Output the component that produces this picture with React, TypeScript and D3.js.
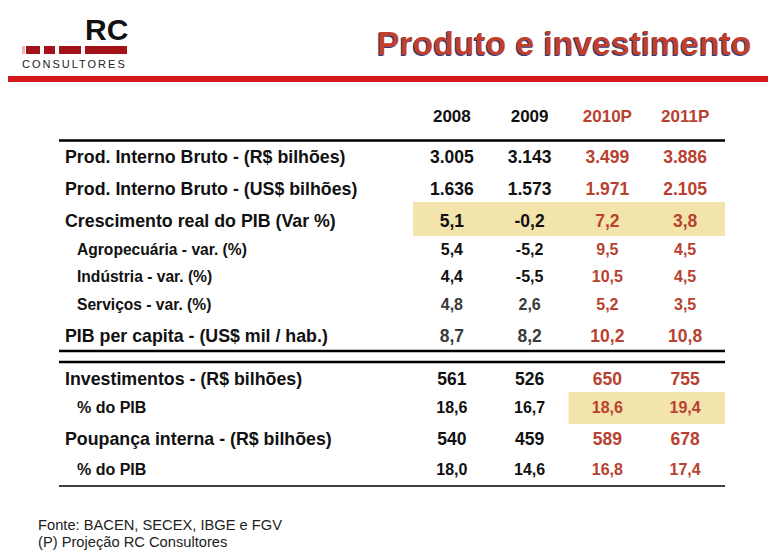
import React from "react";
import * as d3 from "d3";

const years = ["2008", "2009", "2010P", "2011P"];
const projected = [false, false, true, true];

const rowLabels = [
  "Prod. Interno Bruto - (R$ bilhões)",
  "Prod. Interno Bruto - (US$ bilhões)",
  "Crescimento real do PIB (Var %)",
  "Agropecuária - var. (%)",
  "Indústria - var. (%)",
  "Serviços - var. (%)",
  "PIB per capita - (US$ mil / hab.)",
  "Investimentos - (R$ bilhões)",
  "% do PIB",
  "Poupança interna - (R$ bilhões)",
  "% do PIB",
];

const pibReais = [3005, 3143, 3499, 3886];
const pibDolares = [1636, 1573, 1971, 2105];
const crescimento = [5.1, -0.2, 7.2, 3.8];
const agropecuaria = [5.4, -5.2, 9.5, 4.5];
const industria = [4.4, -5.5, 10.5, 4.5];
const servicos = [4.8, 2.6, 5.2, 3.5];
const pibPerCapita = [8.7, 8.2, 10.2, 10.8];
const investimentos = [561, 526, 650, 755];
const investPctPib = [18.6, 16.7, 18.6, 19.4];
const poupanca = [540, 459, 589, 678];
const poupancaPctPib = [18.0, 14.6, 16.8, 17.4];

const rowValues = [
  pibReais,
  pibDolares,
  crescimento,
  agropecuaria,
  industria,
  servicos,
  pibPerCapita,
  investimentos,
  investPctPib,
  poupanca,
  poupancaPctPib,
];
// "int" = thousands format, "dec" = one decimal
const rowFormats = ["int", "int", "dec", "dec", "dec", "dec", "dec", "int", "dec", "int", "dec"];
// kind: main / sub / pct
const rowKinds = ["main", "main", "main", "sub", "sub", "sub", "main", "main", "pct", "main", "pct"];
const grayRows = [5, 6];
// highlighted cells: [row, firstCol, lastCol]
const highlights: [number, number, number][] = [
  [2, 0, 3],
  [8, 2, 3],
];

const sources = ["Fonte: BACEN, SECEX, IBGE e FGV", "(P) Projeção RC Consultores"];

const loc = d3.formatLocale({
  decimal: ",",
  thousands: ".",
  grouping: [3],
  currency: ["R$", ""],
  minus: "-",
});
const fmtInt = loc.format(",.0f");
const fmtDec = loc.format(",.1f");

const FONT = "'Liberation Sans', Arial, Helvetica, sans-serif";
const RED = "#b8412f";
const TITLE_RED = "#c2402b";
const HL = "#f2e4ab";

export default function App() {
  const W = 778;
  const H = 551;
  const left = 59;
  const right = 725;

  const x = d3.scaleBand<string>().domain(years).range([413, 724]).padding(0);
  const cx = (y: string) => (x(y) as number) + x.bandwidth() / 2;

  // row baselines (layout)
  const steps = [0, 32, 32, 28, 27, 28, 32, 43, 28, 32, 30];
  const baselines: number[] = [];
  steps.reduce((acc, s, i) => {
    const v = acc + s;
    baselines[i] = v;
    return v;
  }, 163);

  const valueSize = (k: string) => (k === "main" ? 17.5 : 16);
  const labelSize = (k: string) => (k === "main" ? 17.8 : k === "sub" ? 15.6 : 16);
  const labelX = (k: string) => (k === "main" ? 65 : 77);

  return (
    <svg
      width={W}
      height={H}
      style={{ position: "absolute", left: 0, top: 0, background: "#fff" }}
      fontFamily={FONT}
    >
      <rect x={0} y={0} width={W} height={H} fill="#fff" />
      {/* Logo */}
      <text x={85} y={40} fontSize={30} fontWeight="bold" fill="#111">
        RC
      </text>
      {[
        [22, 25, "#e7b7b8"],
        [26, 40, "#a4121a"],
        [44, 55, "#a4121a"],
        [59, 81, "#a4121a"],
        [85, 127, "#a4121a"],
      ].map(([a, b, c], i) => (
        <rect key={i} x={a as number} y={46} width={(b as number) - (a as number)} height={8} fill={c as string} />
      ))}
      <text x={22} y={68} fontSize={11} letterSpacing={2} fill="#222">
        CONSULTORES
      </text>
      {/* Title */}
      <text x={376} y={56} fontSize={33.7} fontWeight="bold" fill="#23408e">
        Produto e investimento
      </text>
      <text x={377} y={55} fontSize={33.7} fontWeight="bold" fill={TITLE_RED}>
        Produto e investimento
      </text>
      <rect x={8} y={76} width={760} height={6} fill="#d3191a" />

      {/* highlights */}
      {highlights.map(([r, c0, c1], i) => {
        const b = baselines[r];
        const h = rowKinds[r] === "main" ? 34 : 32;
        const top = rowKinds[r] === "main" ? b - 25 : b - 21;
        const x0 = x(years[c0]) as number;
        const x1 = (x(years[c1]) as number) + x.bandwidth();
        return <rect key={i} x={x0} y={top} width={x1 - x0 + 1} height={h} fill={HL} />;
      })}

      {/* header */}
      {years.map((yr, i) => (
        <text
          key={yr}
          x={cx(yr)}
          y={122}
          textAnchor="middle"
          fontSize={17}
          fontWeight="bold"
          fill={projected[i] ? RED : "#111"}
        >
          {yr}
        </text>
      ))}

      {/* rules */}
      <line x1={left} x2={right} y1={140.5} y2={140.5} stroke="#000" strokeWidth={2.5} />
      <line x1={left} x2={right} y1={351} y2={351} stroke="#000" strokeWidth={2.5} />
      <line x1={left} x2={right} y1={362} y2={362} stroke="#000" strokeWidth={2.5} />
      <line x1={left} x2={right} y1={486} y2={486} stroke="#000" strokeWidth={1.5} />

      {/* rows */}
      {rowLabels.map((lab, r) => {
        const k = rowKinds[r];
        const fmt = rowFormats[r] === "int" ? fmtInt : fmtDec;
        return (
          <g key={r}>
            <text x={labelX(k)} y={baselines[r]} fontSize={labelSize(k)} fontWeight="bold" fill="#111">
              {lab}
            </text>
            {rowValues[r].map((v, c) => (
              <text
                key={c}
                x={cx(years[c])}
                y={baselines[r]}
                textAnchor="middle"
                fontSize={valueSize(k)}
                fontWeight="bold"
                fill={projected[c] ? RED : grayRows.includes(r) ? "#3a3a3a" : "#111"}
              >
                {fmt(v)}
              </text>
            ))}
          </g>
        );
      })}

      {/* footer */}
      {sources.map((s, i) => (
        <text key={i} x={38} y={530 + i * 17} fontSize={14.7} fill="#222">
          {s}
        </text>
      ))}
    </svg>
  );
}
